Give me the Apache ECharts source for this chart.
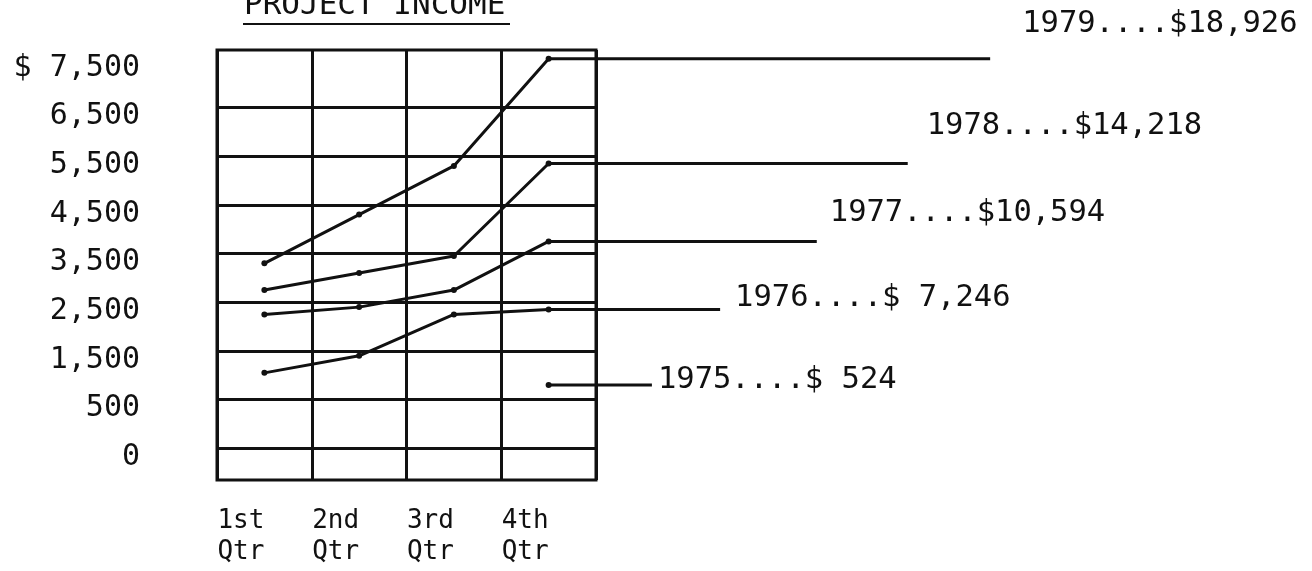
<!DOCTYPE html>
<html>
<head>
<meta charset="utf-8">
<title>Project Income</title>
<script src="https://cdn.jsdelivr.net/npm/echarts@6/dist/echarts.min.js"></script>
<style>
  html, body { margin: 0; padding: 0; background: #fff; }
  #chart { width: 1312px; height: 571px; }
</style>
</head>
<body>
<div id="chart"></div>
<script>
// 数据
const quarters = ['1st Qtr', '2nd Qtr', '3rd Qtr', '4th Qtr']
const years = ['1979', '1978', '1977', '1976', '1975']
const totals = ['$18,926', '$14,218', '$10,594', '$ 7,246', '$ 524']
const income1979 = [3300, 4300, 5300, 7500]
const income1978 = [2750, 3100, 3450, 5350]
const income1977 = [2250, 2400, 2750, 3750]
const income1976 = [1050, 1400, 2250, 2350]
const income1975 = [null, null, null, 800]
const yLabelValues = [-500, 500, 1500, 2500, 3500, 4500, 5500, 6500, 7500]
const yLabelTexts = ['0', '500', '1,500', '2,500', '3,500', '4,500', '5,500', '6,500', '$ 7,500']
const yGridValues = [-500, 500, 1500, 2500, 3500, 4500, 5500, 6500]

const incomes = [income1979, income1978, income1977, income1976, income1975]

// 引线终点(x轴单位)和标签偏移
const leaderStyle = [
  { to: 7.66, offset: [32, -35] },
  { to: 6.79, offset: [19, -37] },
  { to: 5.83, offset: [13, -28] },
  { to: 4.81, offset: [15, -11] },
  { to: 4.09, offset: [6, -5] }
]

const FONT = 'DejaVu Sans Mono'
const INK = '#111'
const Y_MIN = -1150
const Y_MAX = 7680
const COL_W = 94.75 // 每个季度的宽度

var chartDom = document.getElementById('chart')
var myChart = echarts.init(chartDom)

let series = []
incomes.forEach((values, index) => {
  let points = []
  values.forEach((v, i) => {
    if (v !== null) points.push([i, v])
  })
  const last = points[points.length - 1]
  points.push({ value: [leaderStyle[index].to, last[1]], symbol: 'none' })
  series.push({
    name: years[index],
    type: 'line',
    xAxisIndex: 1,
    yAxisIndex: 1,
    data: points,
    symbol: 'circle',
    symbolSize: 6,
    showSymbol: true,
    lineStyle: { color: INK, width: 3 },
    itemStyle: { color: INK },
    endLabel: {
      show: true,
      distance: 0,
      offset: leaderStyle[index].offset,
      formatter: years[index] + '....' + totals[index],
      fontFamily: FONT,
      fontSize: 30.5,
      color: INK
    }
  })
})

const option = {
  animation: false,
  backgroundColor: '#fff',
  grid: [
    {
      // 可见的方格
      left: 217,
      right: 716,
      top: 50,
      bottom: 91,
      show: true,
      borderColor: INK,
      borderWidth: 3
    },
    {
      // 折线和引线用的隐藏坐标系, 比例和方格一致
      left: 217,
      width: COL_W * 11,
      top: 50,
      bottom: 91,
      show: false
    }
  ],
  graphic: [
    {
      type: 'text',
      left: 244,
      top: -10,
      style: { text: 'PROJECT INCOME', font: '31px "' + FONT + '"', fill: INK }
    },
    {
      type: 'line',
      shape: { x1: 243, y1: 24, x2: 510, y2: 24 },
      style: { stroke: INK, lineWidth: 2 }
    }
  ],
  xAxis: [
    {
      type: 'category',
      gridIndex: 0,
      data: quarters,
      boundaryGap: true,
      axisLine: { show: false },
      axisTick: { show: false },
      splitLine: { show: true, interval: 0, lineStyle: { color: INK, width: 3 } },
      axisLabel: {
        interval: 0,
        margin: 26,
        formatter: function (value) {
          const parts = value.split(' ')
          return '{a|' + parts[0] + '}\n{a|' + parts[1] + '}'
        },
        rich: {
          a: { width: 94, align: 'left', fontFamily: FONT, fontSize: 26, lineHeight: 31, color: INK }
        }
      }
    },
    {
      type: 'value',
      gridIndex: 1,
      min: -0.5,
      max: 10.5,
      show: false
    }
  ],
  yAxis: [
    {
      type: 'value',
      gridIndex: 0,
      min: Y_MIN,
      max: Y_MAX,
      axisLine: { show: false },
      axisTick: { show: false, customValues: yGridValues },
      splitLine: { show: true, lineStyle: { color: INK, width: 3 } },
      axisLabel: {
        customValues: yLabelValues,
        margin: 77,
        verticalAlign: 'top',
        lineHeight: 18,
        fontFamily: FONT,
        fontSize: 30,
        color: INK,
        formatter: function (value) {
          const i = yLabelValues.indexOf(value)
          return i >= 0 ? yLabelTexts[i] : ''
        }
      }
    },
    {
      type: 'value',
      gridIndex: 1,
      min: Y_MIN,
      max: Y_MAX,
      show: false
    }
  ],
  series: series
}

myChart.setOption(option)
</script>
</body>
</html>
